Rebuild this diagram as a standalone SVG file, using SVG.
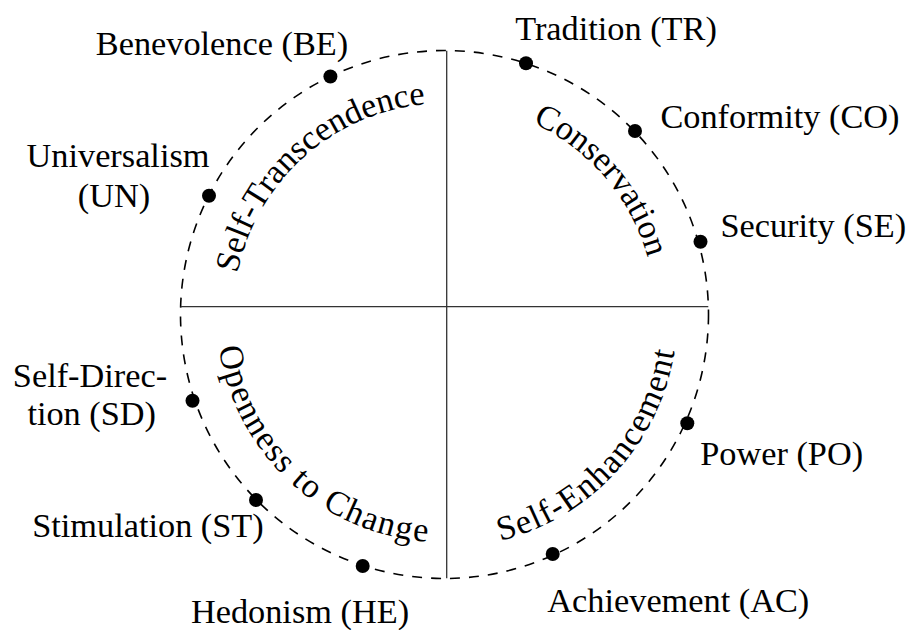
<svg xmlns="http://www.w3.org/2000/svg" width="913" height="630" viewBox="0 0 913 630">
<style>
text{font-family:"Liberation Serif","Times New Roman",serif;font-size:34.3px;fill:#000}
.lbl{text-anchor:middle}
.dot{fill:#000}
.ring{fill:none;stroke:#000;stroke-width:1.6;stroke-dasharray:10 9}
.axis{stroke:#333;stroke-width:1.3;fill:none}
</style>
<defs>
<path id="topArc" d="M 233.5 314.5 A 211 211 0 0 1 655.5 314.5 A 211 211 0 0 1 233.5 314.5"/>
<path id="botArcA" d="M 216.5 314.5 A 228 228 0 0 0 672.5 314.5"/>
<path id="botArcB" d="M 211.5 314.5 A 233 233 0 0 0 677.5 314.5"/>
</defs>
<rect width="913" height="630" fill="#fff"/>
<g id="connectors">
<circle class="ring" cx="444.5" cy="314.5" r="264"/>
<line class="axis" x1="180.7" y1="306.7" x2="708.3" y2="306.7"/>
<line class="axis" x1="446.7" y1="50.7" x2="446.7" y2="578.3"/>
</g>
<g id="quad-self-transcendence"><text><textPath href="#topArc" startOffset="176.8" text-anchor="middle">Self-Transcendence</textPath></text></g>
<g id="quad-conservation"><text><textPath href="#topArc" startOffset="513.4" text-anchor="middle">Conservation</textPath></text></g>
<g id="quad-openness"><text style="letter-spacing:1.5px"><textPath href="#botArcA" startOffset="187.8" text-anchor="middle">Openness to Change</textPath></text></g>
<g id="quad-self-enhancement"><text style="letter-spacing:1.3px"><textPath href="#botArcB" startOffset="559.2" text-anchor="middle">Self-Enhancement</textPath></text></g>
<g id="node-BE"><circle class="dot" cx="330.4" cy="76.5" r="7"/><text class="lbl" x="222" y="55">Benevolence (BE)</text></g>
<g id="node-TR"><circle class="dot" cx="526" cy="63.3" r="7"/><text class="lbl" x="616" y="39.5">Tradition (TR)</text></g>
<g id="node-UN"><circle class="dot" cx="209" cy="195.7" r="7"/><text class="lbl" x="118" y="167.3">Universalism</text><text class="lbl" x="114" y="206.7">(UN)</text></g>
<g id="node-CO"><circle class="dot" cx="635" cy="131" r="7"/><text class="lbl" x="780" y="128.3">Conformity (CO)</text></g>
<g id="node-SE"><circle class="dot" cx="700.5" cy="241.7" r="7"/><text class="lbl" x="813.3" y="236.7">Security (SE)</text></g>
<g id="node-SD"><circle class="dot" cx="192.5" cy="400.8" r="7"/><text class="lbl" x="90" y="386.7">Self-Direc-</text><text class="lbl" x="91.7" y="425">tion (SD)</text></g>
<g id="node-PO"><circle class="dot" cx="687.3" cy="423.3" r="7"/><text class="lbl" x="781.7" y="465">Power (PO)</text></g>
<g id="node-ST"><circle class="dot" cx="256" cy="500" r="7"/><text class="lbl" x="148" y="536.7">Stimulation (ST)</text></g>
<g id="node-HE"><circle class="dot" cx="362.7" cy="566" r="7"/><text class="lbl" x="300" y="623.3">Hedonism (HE)</text></g>
<g id="node-AC"><circle class="dot" cx="552.7" cy="554" r="7"/><text class="lbl" x="678.3" y="611.7">Achievement (AC)</text></g>
</svg>
